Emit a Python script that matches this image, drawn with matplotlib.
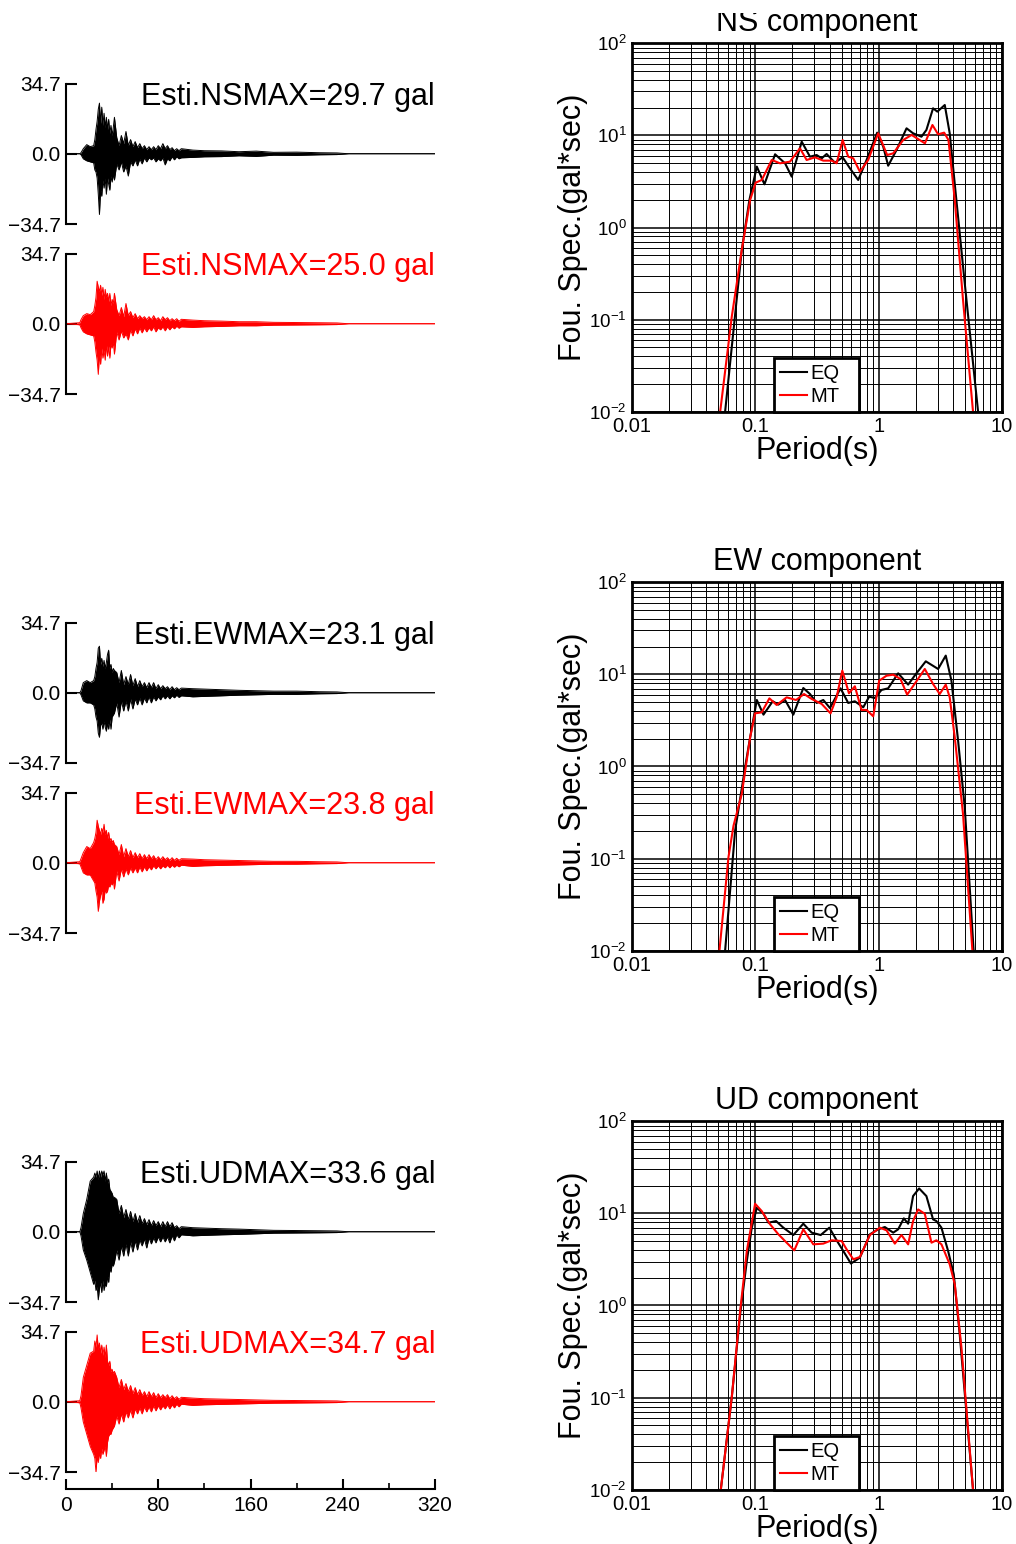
import numpy as np
import matplotlib
matplotlib.use('Agg')
import matplotlib.pyplot as plt
from matplotlib.transforms import Bbox

plt.rcParams['font.family'] = ['Liberation Sans', 'DejaVu Sans']
plt.rcParams['mathtext.default'] = 'regular'

# ---- acceleration time histories: envelope (upper / lower peaks) ----
wave_t = [0, 12, 13, 15, 18, 21, 24,
          25, 26, 27, 28, 29, 30, 31, 32, 33, 34, 35, 36, 37, 38, 39, 40, 41, 42,
          44, 46, 48, 50, 52, 54, 56, 58, 60, 62, 64, 66, 68, 70, 72, 74, 76, 78, 80,
          82, 84, 86, 88, 90, 92, 94, 96, 98, 100,
          110, 120, 135, 150, 165, 180, 200, 220, 235, 245, 320]

ns_eq_up = [0, 0, 0.5, 2.5, 4.5, 3.5, 4,
            7, 12, 16, 22, 25, 15, 23, 14, 20, 13, 18, 12, 17, 10, 14, 9, 13, 18,
            8, 4, 9, 5, 11, 4, 7, 3.5, 6, 3, 5, 2.5, 4, 2, 3.5, 2, 3.5, 2, 4,
            2.5, 5, 2.5, 4, 2, 3, 1.5, 2.5, 1.5, 2.5,
            1.8, 1.5, 1.4, 1.0, 1.3, 0.7, 0.8, 0.5, 0.4, 0, 0]
ns_eq_lo = [0, 0, -0.5, -2.5, -3.5, -4, -4.5,
            -8, -9, -12, -20, -30, -18, -21, -13, -17, -12, -20, -12, -15, -18, -11, -14, -10, -13,
            -5, -8, -4, -9, -6, -11, -4, -6, -3, -6, -2.5, -5, -2, -4, -2, -3, -2, -4, -2.5,
            -3.5, -2, -5.5, -2.5, -3.5, -1.5, -3, -1.5, -2.5, -2,
            -1.8, -1.5, -1.4, -1.0, -1.3, -0.7, -0.8, -0.5, -0.4, 0, 0]
ns_mt_up = [0, 0.5, 2, 4, 5, 4.5, 6,
            9, 13, 21, 18, 16, 19, 14, 18, 12, 17, 13, 15, 11, 15, 9, 12, 10, 15,
            7, 4, 8, 3.5, 10, 4, 6, 3, 5, 2.5, 4, 2.5, 3.5, 2, 3.5, 2, 4, 2, 3,
            1.5, 3.5, 2, 3, 1.5, 2.5, 1.5, 2.5, 1.2, 2.2,
            1.8, 1.5, 1.3, 1.0, 1.0, 0.7, 0.6, 0.5, 0.4, 0, 0]
ns_mt_lo = [0, -0.5, -2, -4, -5, -5.5, -6,
            -9, -14, -18, -25, -15, -20, -12, -17, -13, -18, -10, -16, -11, -17, -10, -12, -9, -15,
            -4, -8, -3.5, -7, -5, -8, -3, -6, -2.5, -5, -2, -4.5, -2, -4, -2, -3.5, -1.5, -4, -2,
            -3, -1.5, -3.5, -1.5, -3, -1.5, -2.5, -1.2, -2.2, -1.5,
            -1.8, -1.5, -1.3, -1.0, -1.0, -0.7, -0.6, -0.5, -0.4, 0, 0]

ew_eq_up = [0, 0, 1, 5, 6, 5, 6,
            8, 12, 15, 22, 23, 14, 17, 13, 16, 12, 15, 19, 21, 12, 14, 10, 12, 11,
            10, 5, 11, 4, 8, 4, 9, 3.5, 7, 3, 6, 3, 5, 2.5, 5, 2.5, 5, 2, 4,
            2, 3.5, 2, 3, 1.5, 3, 1.5, 2.5, 1.5, 2.3,
            2, 1.8, 1.5, 1.2, 1, 0.8, 0.8, 0.5, 0.4, 0, 0]
ew_eq_lo = [0, 0, -1, -4, -5, -5, -6,
            -8, -12, -14, -20, -22, -16, -15, -18, -14, -17, -19, -15, -18, -13, -18, -12, -11, -10,
            -5, -12, -4, -9, -4, -9, -3, -8, -3, -6, -2.5, -6, -2.5, -5, -2, -5, -2, -4, -2,
            -3.5, -1.5, -3, -1.5, -3, -1.5, -2.5, -1.2, -2.3, -1.5,
            -2, -1.8, -1.5, -1.2, -1, -0.8, -0.8, -0.5, -0.4, 0, 0]
ew_mt_up = [0, 0.5, 2, 5, 8, 7, 10,
            12, 15, 21, 18, 16, 14, 17, 15, 19, 14, 16, 12, 15, 11, 12, 10, 11, 9,
            8, 4, 9, 3, 7, 3, 6, 2.5, 5, 2.5, 4.5, 2, 4, 2, 4, 2, 3.5, 1.5, 3,
            1.5, 3, 1.5, 2.5, 1.2, 2.5, 1.2, 2.2, 1.2, 2,
            1.8, 1.5, 1.3, 1.1, 0.9, 0.7, 0.7, 0.5, 0.4, 0, 0]
ew_mt_lo = [0, -0.5, -2, -5, -6, -6, -9,
            -10, -14, -17, -24, -19, -16, -14, -20, -18, -13, -15, -14, -11, -12, -10, -11, -9, -13,
            -4, -9, -3, -7, -3, -6, -2.5, -5, -2.5, -5, -2, -4.5, -2, -4, -2, -3.5, -1.5, -3, -1.5,
            -3, -1.5, -2.5, -1.2, -2.5, -1.2, -2.2, -1.2, -2, -1.2,
            -1.8, -1.5, -1.3, -1.1, -0.9, -0.7, -0.7, -0.5, -0.4, 0, 0]

ud_eq_up = [0, 0, 2, 9, 16, 25, 27,
            29, 27, 30, 26, 30, 27, 30, 28, 30, 25, 29, 24, 26, 21, 20, 19, 17, 17,
            16, 9, 13, 7, 11, 6, 10, 5, 9, 4.5, 8, 4, 6.5, 3.5, 6, 3, 5.5, 3, 5,
            2.5, 5, 2.5, 5, 2.5, 4.5, 2, 3, 1.5, 2.5,
            2, 1.8, 1.5, 1.3, 1.0, 0.7, 0.6, 0.5, 0.4, 0, 0]
ud_eq_lo = [0, 0, -2, -9, -14, -20, -26,
            -24, -29, -27, -33.6, -28, -25, -30, -24, -29, -26, -27, -22, -25, -18, -20, -16, -17, -15,
            -9, -14, -7, -12, -6, -12, -5, -10, -4.5, -9, -4, -7, -3.5, -8, -3, -6, -3, -5.5, -2.5,
            -5, -2.5, -5, -2.5, -5.5, -2, -4.5, -1.5, -3, -1.5,
            -2, -1.8, -1.5, -1.3, -1.0, -0.7, -0.6, -0.5, -0.4, 0, 0]
ud_mt_up = [0, 0.5, 3, 12, 18, 24, 25,
            30, 27, 33, 26, 29, 24, 28, 23, 27, 22, 28, 20, 18, 20, 15, 16, 14, 15,
            12, 7, 11, 6, 9, 5, 8, 4, 7, 3.5, 6, 3, 5, 2.5, 5, 2.5, 4.5, 2, 4,
            2, 3.5, 2, 3.5, 1.5, 3, 1.5, 2.5, 1.2, 2.2,
            1.8, 1.5, 1.3, 1.1, 0.9, 0.7, 0.6, 0.5, 0.4, 0, 0]
ud_mt_lo = [0, -0.5, -3, -10, -16, -22, -26,
            -28, -34.7, -27, -30, -25, -28, -23, -26, -24, -22, -27, -20, -17, -16, -16, -14, -13, -12,
            -7, -11, -6, -10, -5, -8, -4, -8, -3.5, -6, -3, -6, -2.5, -5, -2.5, -5, -2, -4.5, -2,
            -4, -2, -3.5, -1.5, -3.5, -1.5, -3, -1.2, -2.5, -1.2,
            -1.8, -1.5, -1.3, -1.1, -0.9, -0.7, -0.6, -0.5, -0.4, 0, 0]

wave_labels = ['Esti.NSMAX=29.7 gal', 'Esti.NSMAX=25.0 gal',
               'Esti.EWMAX=23.1 gal', 'Esti.EWMAX=23.8 gal',
               'Esti.UDMAX=33.6 gal', 'Esti.UDMAX=34.7 gal']
amp_max = 34.7

# ---- Fourier spectra: log10(period [s]) and log10(amplitude [gal*sec]) ----
ns_eq_logp = [-1.245, -1.110, -1.048, -0.988, -0.926, -0.840, -0.759, -0.705, -0.624, -0.557, -0.503,
              -0.462, -0.422, -0.355, -0.292, -0.233, -0.166, -0.098, -0.012, 0.037, 0.077, 0.145,
              0.226, 0.279, 0.347, 0.387, 0.441, 0.476, 0.536, 0.576, 0.630, 0.698, 0.806]
ns_eq_loga = [-2.0, -0.244, 0.299, 0.661, 0.469, 0.795, 0.697, 0.552, 0.932, 0.769, 0.787,
              0.751, 0.798, 0.704, 0.762, 0.643, 0.516, 0.733, 1.030, 0.878, 0.671, 0.842,
              1.077, 1.023, 0.986, 1.059, 1.294, 1.258, 1.330, 1.023, 0.299, -0.606, -2.0]
ns_mt_logp = [-1.285, -1.191, -1.110, -1.042, -0.997, -0.948, -0.867, -0.800, -0.719, -0.638, -0.584,
              -0.516, -0.449, -0.381, -0.341, -0.292, -0.247, -0.206, -0.152, -0.085, -0.004, 0.069,
              0.118, 0.199, 0.267, 0.375, 0.436, 0.482, 0.531, 0.566, 0.617, 0.684, 0.765]
ns_mt_loga = [-2.0, -0.968, -0.244, 0.299, 0.487, 0.516, 0.733, 0.697, 0.715, 0.860, 0.733,
              0.762, 0.726, 0.726, 0.697, 0.950, 0.769, 0.751, 0.606, 0.733, 1.023, 0.787,
              0.805, 0.950, 1.005, 0.914, 1.113, 1.012, 1.030, 0.950, 0.299, -0.787, -2.0]

ew_eq_logp = [-1.245, -1.164, -1.083, -1.042, -0.988, -0.934, -0.859, -0.813, -0.759, -0.692, -0.611,
              -0.557, -0.503, -0.449, -0.395, -0.309, -0.247, -0.193, -0.125, -0.077, -0.031, 0.023,
              0.077, 0.158, 0.239, 0.306, 0.382, 0.482, 0.544, 0.590, 0.644, 0.698, 0.770]
ew_eq_loga = [-2.0, -0.697, -0.009, 0.317, 0.722, 0.563, 0.708, 0.672, 0.722, 0.563, 0.852,
              0.787, 0.690, 0.722, 0.635, 0.849, 0.690, 0.708, 0.643, 0.758, 0.744, 0.831,
              0.849, 1.012, 0.889, 1.012, 1.142, 1.059, 1.204, 0.932, 0.281, -0.443, -2.0]
ew_mt_logp = [-1.291, -1.218, -1.177, -1.110, -1.042, -1.002, -0.948, -0.886, -0.827, -0.746, -0.670,
              -0.605, -0.543, -0.462, -0.390, -0.341, -0.295, -0.241, -0.193, -0.139, -0.098, -0.044,
              0.004, 0.064, 0.118, 0.177, 0.231, 0.306, 0.374, 0.441, 0.495, 0.544, 0.576, 0.617,
              0.684, 0.760]
ew_mt_loga = [-2.0, -0.986, -0.643, -0.299, 0.317, 0.577, 0.588, 0.740, 0.668, 0.751, 0.722,
              0.787, 0.733, 0.679, 0.577, 0.751, 1.041, 0.795, 0.871, 0.614, 0.614, 0.545,
              0.932, 0.986, 0.997, 0.950, 0.780, 0.925, 1.059, 0.896, 0.787, 0.889, 0.751, 0.317,
              -0.516, -2.0]

ud_eq_logp = [-1.280, -1.191, -1.123, -1.069, -1.029, -0.988, -0.934, -0.894, -0.832, -0.773, -0.692,
              -0.611, -0.543, -0.470, -0.400, -0.341, -0.287, -0.225, -0.152, -0.071, -0.004, 0.050,
              0.118, 0.158, 0.204, 0.239, 0.279, 0.328, 0.387, 0.441, 0.468, 0.509, 0.563, 0.609,
              0.657, 0.765]
ud_eq_loga = [-2.0, -0.996, -0.094, 0.484, 0.845, 1.061, 0.996, 0.899, 0.917, 0.845, 0.765,
              0.888, 0.791, 0.765, 0.845, 0.708, 0.592, 0.455, 0.520, 0.773, 0.827, 0.852,
              0.791, 0.827, 0.946, 0.888, 1.188, 1.271, 1.188, 0.935, 0.917, 0.845, 0.592, 0.339,
              -0.310, -2.0]
ud_mt_logp = [-1.280, -1.191, -1.123, -1.069, -1.002, -0.948, -0.880, -0.813, -0.746, -0.684, -0.611,
              -0.530, -0.449, -0.381, -0.300, -0.260, -0.206, -0.152, -0.071, 0.010, 0.064, 0.131,
              0.185, 0.239, 0.279, 0.320, 0.374, 0.428, 0.468, 0.509, 0.576, 0.617, 0.671, 0.765]
ud_mt_loga = [-2.0, -0.996, -0.058, 0.592, 1.105, 1.025, 0.881, 0.773, 0.682, 0.599, 0.827,
              0.664, 0.672, 0.708, 0.700, 0.610, 0.502, 0.527, 0.765, 0.845, 0.816, 0.672,
              0.765, 0.664, 0.917, 1.043, 0.996, 0.682, 0.708, 0.664, 0.448, 0.231, -0.455, -2.0]

components = ['NS', 'EW', 'UD']
period_ticks = [0.01, 0.1, 1, 10]
period_labels = ['0.01', '0.1', '1', '10']
time_ticks = [0, 80, 160, 240, 320]

W, H = 1016, 1544
fig = plt.figure(figsize=(W / 100, H / 100), dpi=100)


def add_px_axes(left, top, width, height):
    # place an axes from pixel coordinates measured from the top-left corner
    return fig.add_axes([left / W, 1 - (top + height) / H, width / W, height / H])


def draw_wave(ax, up, lo, color, label, show_time):
    ax.fill_between(wave_t, lo, up, color=color, lw=0)
    ax.plot(wave_t, up, color=color, lw=0.7)
    ax.plot(wave_t, lo, color=color, lw=0.7)
    ax.set_xlim(0, 320)
    ax.set_ylim(-amp_max, amp_max)
    ax.set_yticks([-amp_max, 0, amp_max])
    ax.set_yticklabels(['\u221234.7', '0.0', '34.7'])
    ax.tick_params(axis='y', direction='in', length=8, width=1.5, labelsize=15, pad=4)
    for s in ['top', 'right']:
        ax.spines[s].set_visible(False)
    ax.spines['left'].set_linewidth(1.5)
    ax.text(1.0, 0.905, label, transform=ax.transAxes, ha='right', va='center',
            fontsize=22, color=color)
    if show_time:
        ax.spines['bottom'].set_position(('outward', 12))
        ax.spines['bottom'].set_linewidth(1.5)
        ax.set_xticks(time_ticks)
        ax.set_xticks([40, 120, 200, 280], minor=True)
        ax.tick_params(axis='x', which='major', direction='in', length=7, width=1.5,
                       labelsize=15, pad=5)
        ax.tick_params(axis='x', which='minor', direction='in', length=4, width=1.2)
    else:
        ax.spines['bottom'].set_visible(False)
        ax.set_xticks([])


def draw_spec(ax, comp, eq, mt):
    ax.plot(10 ** np.array(eq[0]), 10 ** np.array(eq[1]), color='black', lw=1.5, label='EQ')
    ax.plot(10 ** np.array(mt[0]), 10 ** np.array(mt[1]), color='red', lw=1.5, label='MT')
    ax.set_xscale('log')
    ax.set_yscale('log')
    ax.set_xlim(0.01, 10)
    ax.set_ylim(0.01, 100)
    ax.set_xticks(period_ticks)
    ax.set_xticklabels(period_labels)
    ax.grid(True, which='major', color='black', lw=1.1)
    ax.grid(True, which='minor', color='black', lw=0.7)
    ax.set_axisbelow(True)
    ax.tick_params(which='both', length=0)
    ax.tick_params(axis='x', labelsize=14.5, pad=4)
    ax.tick_params(axis='y', labelsize=13.5, pad=4)
    for s in ax.spines.values():
        s.set_linewidth(2)
    ax.set_xlabel('Period(s)', fontsize=22, labelpad=0)
    ax.set_ylabel('Fou. Spec.(gal*sec)', fontsize=22, labelpad=1)
    title = ax.set_title(comp + ' component', fontsize=22, pad=9)
    leg = ax.legend(loc='lower left', bbox_to_anchor=(0.384, 0, 0.23, 0.5), mode='expand',
                    borderaxespad=0, fontsize=14.5, fancybox=False, edgecolor='black',
                    framealpha=1, handlelength=1.35, handletextpad=0.15,
                    labelspacing=0.2, borderpad=0.3)
    leg.get_frame().set_linewidth(2)
    return title


waves = [(ns_eq_up, ns_eq_lo, ns_mt_up, ns_mt_lo),
         (ew_eq_up, ew_eq_lo, ew_mt_up, ew_mt_lo),
         (ud_eq_up, ud_eq_lo, ud_mt_up, ud_mt_lo)]
spectra = [((ns_eq_logp, ns_eq_loga), (ns_mt_logp, ns_mt_loga)),
           ((ew_eq_logp, ew_eq_loga), (ew_mt_logp, ew_mt_loga)),
           ((ud_eq_logp, ud_eq_loga), (ud_mt_logp, ud_mt_loga))]

step = 539
for k, comp in enumerate(components):
    eq_up, eq_lo, mt_up, mt_lo = waves[k]
    ax_eq = add_px_axes(66, 83.5 + step * k, 369, 140.5)
    draw_wave(ax_eq, eq_up, eq_lo, 'black', wave_labels[2 * k], False)
    ax_mt = add_px_axes(66, 253.5 + step * k, 369, 140.5)
    draw_wave(ax_mt, mt_up, mt_lo, 'red', wave_labels[2 * k + 1], k == 2)

    ax_sp = add_px_axes(632, 43.3 + step * k, 370, 368.4)
    title = draw_spec(ax_sp, comp, spectra[k][0], spectra[k][1])
    if k == 0:
        # the top title is cut by the upper edge of the original picture
        title.set_clip_box(Bbox([[0, 0], [W, H - 13]]))
        title.set_clip_on(True)

fig.savefig('out.png', dpi=100)
